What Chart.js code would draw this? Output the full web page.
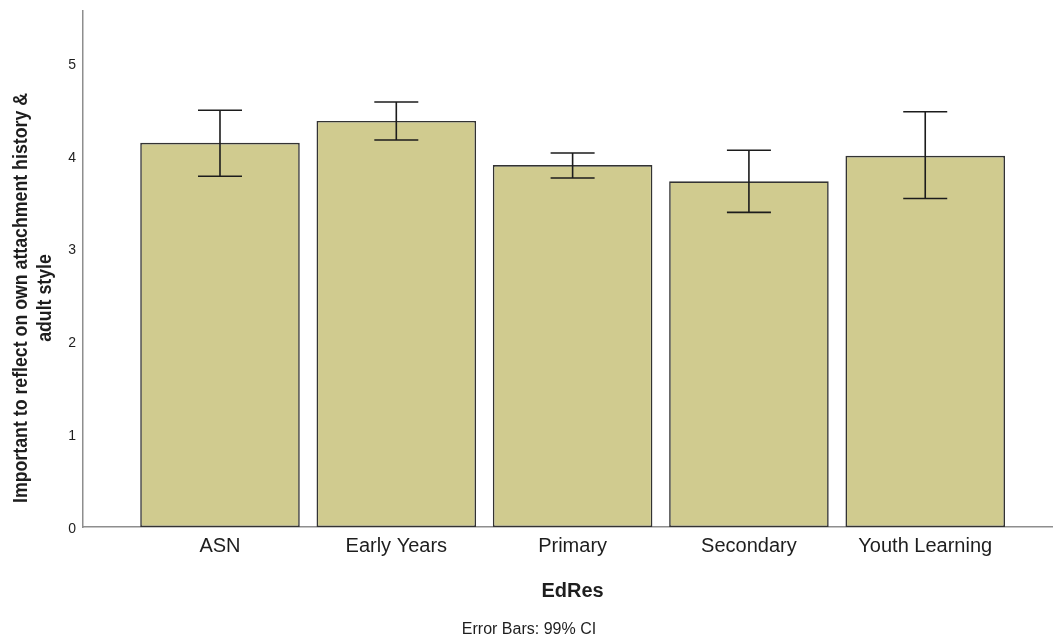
<!DOCTYPE html>
<html>
<head>
<meta charset="utf-8">
<script src="https://cdn.jsdelivr.net/npm/chart.js@4.4.1/dist/chart.umd.min.js"></script>
<style>
  html, body { margin: 0; padding: 0; background: #ffffff; }
  canvas { display: block; }
</style>
</head>
<body>
<canvas id="chart" width="1054" height="636"></canvas>
<script>
// Mean rating per education sector, with 99% confidence interval bounds
const categories = ['ASN', 'Early Years', 'Primary', 'Secondary', 'Youth Learning'];
const means  = [4.14, 4.375, 3.90, 3.725, 4.00];
const ciLow  = [3.78, 4.17, 3.76, 3.39, 3.54];
const ciHigh = [4.49, 4.58, 4.03, 4.06, 4.475];
const yTicks = [0, 1, 2, 3, 4, 5];
const yTitleLines = ['Important to reflect on own attachment history &', 'adult style'];
const xTitle = 'EdRes';
const footnote = 'Error Bars: 99% CI';

const FONT = '"Liberation Sans", Arial, Helvetica, sans-serif';
const TEXT = '#1e1e1e';

// Whiskers with caps for each confidence interval
const errorBars = {
  id: 'errorBars',
  afterDatasetsDraw(chart) {
    const { ctx, scales: { x, y } } = chart;
    const half = 22;
    ctx.save();
    ctx.strokeStyle = '#1c1c1c';
    ctx.lineWidth = 1.6;
    categories.forEach((_, i) => {
      const px = x.getPixelForValue(i);
      const top = y.getPixelForValue(ciHigh[i]);
      const bot = y.getPixelForValue(ciLow[i]);
      ctx.beginPath();
      ctx.moveTo(px, top); ctx.lineTo(px, bot);
      ctx.moveTo(px - half, top); ctx.lineTo(px + half, top);
      ctx.moveTo(px - half, bot); ctx.lineTo(px + half, bot);
      ctx.stroke();
    });
    ctx.restore();
  }
};

// Axis titles and the footnote
const titles = {
  id: 'titles',
  afterDraw(chart) {
    const { ctx, scales: { x } } = chart;
    ctx.save();
    ctx.fillStyle = TEXT;

    // rotated, slightly condensed y-axis title (two lines)
    ctx.save();
    ctx.translate(0, 298);
    ctx.rotate(-Math.PI / 2);
    ctx.font = 'bold 20px ' + FONT;
    ctx.textAlign = 'center';
    ctx.textBaseline = 'alphabetic';
    const squeeze = 410 / ctx.measureText(yTitleLines[0]).width;
    ctx.fillText(yTitleLines[0], 0, 27, 410);
    ctx.fillText(yTitleLines[1], 0, 51, ctx.measureText(yTitleLines[1]).width * squeeze);
    ctx.restore();

    const mid = (x.getPixelForValue(0) + x.getPixelForValue(categories.length - 1)) / 2;
    ctx.textAlign = 'center';
    ctx.textBaseline = 'alphabetic';
    ctx.font = 'bold 20px ' + FONT;
    ctx.fillText(xTitle, mid, 597);
    ctx.font = '16px ' + FONT;
    ctx.fillText(footnote, 529, 634);
    ctx.restore();
  }
};

new Chart(document.getElementById('chart'), {
  type: 'bar',
  data: {
    datasets: [{
      data: categories.map((_, i) => ({ x: i, y: means[i] })),
      backgroundColor: '#d0cb8f',
      borderColor: '#333333',
      borderWidth: 1.6,
      borderSkipped: false,
      categoryPercentage: 1,
      barPercentage: 0.905
    }]
  },
  options: {
    responsive: false,
    animation: false,
    devicePixelRatio: 1,
    layout: { padding: { top: 11, right: 2, left: 0, bottom: 0 } },
    plugins: { legend: { display: false }, tooltip: { enabled: false } },
    scales: {
      x: {
        type: 'linear',
        offset: false,
        min: -0.777,
        max: 4.719,
        grid: { display: false, drawTicks: false, offset: false },
        border: { display: true, color: '#8e8e8e', width: 1.5 },
        afterBuildTicks(scale) { scale.ticks = categories.map((_, i) => ({ value: i })); },
        afterFit(scale) { scale.height = 109; scale.paddingLeft = 0; scale.paddingRight = 0; },
        ticks: {
          padding: 7,
          autoSkip: false,
          maxRotation: 0,
          color: TEXT,
          font: { family: FONT, size: 20 },
          callback: (v) => categories[v] ?? ''
        }
      },
      y: {
        min: 0,
        max: 5.56,
        grid: { display: false, drawTicks: false },
        border: { display: true, color: '#8e8e8e', width: 1.5 },
        afterBuildTicks(scale) { scale.ticks = yTicks.map(v => ({ value: v })); },
        afterFit(scale) { scale.width = 83; scale.paddingTop = 0; scale.paddingBottom = 0; },
        ticks: {
          padding: 7,
          labelOffset: 2,
          color: TEXT,
          font: { family: FONT, size: 14 }
        }
      }
    }
  },
  plugins: [errorBars, titles]
});
</script>
</body>
</html>
